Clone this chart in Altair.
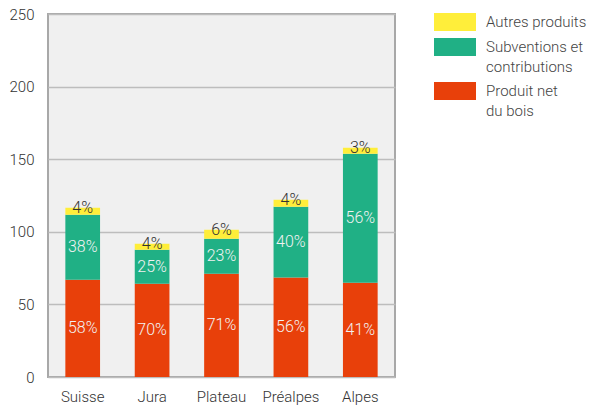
import altair as alt
import pandas as pd

regions = ["Suisse", "Jura", "Plateau", "Préalpes", "Alpes"]
series = ["Produit net du bois", "Subventions et contributions", "Autres produits"]
bois = [67.0, 64.2, 71.1, 68.6, 64.9]
subv = [44.7, 23.4, 24.1, 48.6, 88.8]
autres = [4.8, 4.1, 6.2, 4.8, 4.1]
pct_bois = ["58%", "70%", "71%", "56%", "41%"]
pct_subv = ["38%", "25%", "23%", "40%", "56%"]
pct_autres = ["4%", "4%", "6%", "4%", "3%"]
colors = ["#E8400A", "#20B085", "#FFEE3A"]
y_ticks = [0, 50, 100, 150, 200, 250]

rows = []
for i, r in enumerate(regions):
    vals = [bois[i], subv[i], autres[i]]
    pcts = [pct_bois[i], pct_subv[i], pct_autres[i]]
    base = 0.0
    for k, s in enumerate(series):
        v = vals[k]
        mid = base + v / 2 if k < 2 else base + v
        rows.append({"region": r, "serie": s, "value": v, "order": k,
                     "pct": pcts[k], "labelpos": mid,
                     "dark": "dark" if k == 2 else "light"})
        base += v
df = pd.DataFrame(rows)

legend_order = ["Autres produits", "Subventions et contributions", "Produit net du bois"]
legend_colors = [colors[2], colors[1], colors[0]]

label_expr = ("datum.label == 'Subventions et contributions' ? ['Subventions et', 'contributions'] : "
              "datum.label == 'Produit net du bois' ? ['Produit net', 'du bois'] : datum.label")

yscale = alt.Scale(domain=[0, 250], nice=False, zero=True)

x_enc = alt.X("region:N", sort=regions, title=None,
              scale=alt.Scale(paddingInner=0.5, paddingOuter=0.25),
              axis=alt.Axis(labelAngle=0, ticks=False, domain=False, labelPadding=12,
                            labelFontSize=15, labelColor="#333", labelFont="Roboto",
                            labelFontWeight=300, labelLineHeight=15))

bars = alt.Chart(df).mark_bar().encode(
    x=x_enc,
    y=alt.Y("value:Q", stack="zero", title=None, scale=yscale,
            axis=alt.Axis(values=y_ticks, ticks=False, domain=False, labelPadding=14,
                          labelFontSize=15, labelColor="#333", labelFont="Roboto",
                          labelFontWeight=300, labelLineHeight=15,
                          gridColor="#bdbdbd", gridWidth=1.5)),
    color=alt.Color("serie:N", sort=legend_order,
                    scale=alt.Scale(domain=legend_order, range=legend_colors),
                    legend=alt.Legend(title=None, orient="none", legendX=398, legendY=-1,
                                      symbolType="M-2.333,-1L2.333,-1L2.333,1L-2.333,1Z",
                                      symbolSize=324, symbolStrokeWidth=0, symbolOpacity=1,
                                      labelFontSize=15, labelFont="Roboto", labelColor="#444",
                                      labelFontWeight=300,
                                      labelOffset=22, labelExpr=label_expr, rowPadding=7,
                                      padding=0)),
    order=alt.Order("order:Q"),
)

texts = alt.Chart(df).mark_text(fontSize=16, font="Roboto", fontWeight=300, baseline="middle").encode(
    x=alt.X("region:N", sort=regions),
    y=alt.Y("labelpos:Q", scale=yscale),
    text="pct:N",
    color=alt.Color("dark:N", scale=alt.Scale(domain=["dark", "light"], range=["#333333", "#f2f2f2"]),
                    legend=None),
)

chart = alt.layer(bars, texts).resolve_scale(color="independent").properties(
    width=347, height=363,
    autosize=alt.AutoSizeParams(type="none"),
    padding={"left": 40, "top": 6, "right": 192, "bottom": 28},
).configure(
    view=alt.ViewConfig(fill="#f0f0f0", stroke="#a8a8a8", strokeWidth=2),
    style={"guide-label": {"lineHeight": 20}},
)

chart.save("out.html", embed_options={"renderer": "svg", "actions": False})
